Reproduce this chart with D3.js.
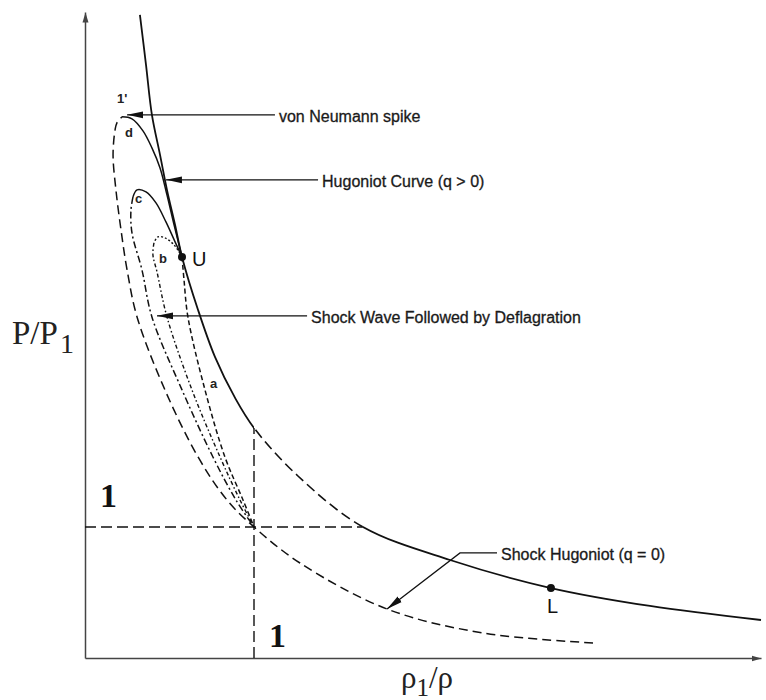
<!DOCTYPE html>
<html><head><meta charset="utf-8">
<script src="https://cdn.jsdelivr.net/npm/d3@7"></script>
<style>body{margin:0;background:#fff}svg{display:block}</style>
</head><body>
<svg id="chart" width="766" height="700"></svg>
<script>
// ---- data (x = rho1/rho, y = P/P1) ----
const xDomain = [0, 4];
const yDomain = [0, 4.93];

// Hugoniot curve (q > 0)
const hugoniotQPos = [[0.325,4.908],[0.361,4.527],[0.396,4.145],[0.444,3.840],[0.485,3.573],[0.533,3.305],[0.574,3.061],
  [0.669,2.656],[0.769,2.298],[0.888,1.985],[1.000,1.756],[1.260,1.389],[1.645,1.000],
  [2.160,0.748],[2.757,0.534],[3.343,0.397],[4.000,0.290]];
// Shock Hugoniot (q = 0), from low pressure up to the von Neumann spike 1'
const shockHugoniot = [[3.006,0.115],[2.355,0.191],[1.787,0.374],[1.272,0.725],[1.000,1.000],[0.840,1.206],[0.669,1.534],
  [0.473,2.046],[0.308,2.603],[0.249,2.962],[0.213,3.267],[0.183,3.573],[0.166,3.840],[0.178,4.031],[0.189,4.084],[0.219,4.130]];
// path d: from 1' to U (solid)
const pathD = [[0.219,4.130],[0.278,4.115],[0.343,4.023],[0.396,3.893],[0.444,3.740],[0.485,3.534],[0.527,3.305],[0.574,3.061]];
// path c: solid top, dash-dot branch
const pathCTop = [[0.574,3.061],[0.533,3.176],[0.479,3.328],[0.420,3.473],[0.361,3.557],[0.308,3.573],[0.284,3.519]];
const pathCBranch = [[0.284,3.519],[0.272,3.420],[0.278,3.244],[0.337,2.962],[0.396,2.603],[0.574,2.046],[0.757,1.534],[0.893,1.206],[1.000,1.000]];
// path b: dotted top, dash-dot-dot branch
const pathBTop = [[0.574,3.061],[0.527,3.153],[0.473,3.206],[0.432,3.214],[0.408,3.168]];
const pathBBranch = [[0.408,3.168],[0.402,3.076],[0.426,2.947],[0.485,2.603],[0.633,2.046],[0.799,1.534],[0.917,1.206],[1.000,1.000]];
// path a: from U down (dashed)
const pathA = [[0.574,3.061],[0.586,2.885],[0.609,2.603],[0.710,2.046],[0.828,1.534],[0.935,1.206],[1.000,1.000]];

const initialState = [1, 1];
const hugoniotAtX1 = 1.756;   // P/P1 on the q>0 Hugoniot at rho1/rho = 1
const hugoniotAtY1 = 1.645;   // rho1/rho on the q>0 Hugoniot at P/P1 = 1
const points = [{name:"U", at:[0.574,3.061]}, {name:"L", at:[2.757,0.534]}];
const curveLabels = [{t:"1'", at:[0.189,4.237]}, {t:"d", at:[0.237,3.977]}, {t:"c", at:[0.296,3.473]},
  {t:"b", at:[0.438,3.015]}, {t:"a", at:[0.740,2.061]}];
const annotations = [
  {text:"von Neumann spike", pts:[[1.124,4.145],[0.249,4.145]]},
  {text:"Hugoniot Curve (q > 0)", pts:[[1.379,3.649],[0.479,3.649]]},
  {text:"Shock Wave Followed by Deflagration", pts:[[1.314,2.611],[0.426,2.611]]},
  {text:"Shock Hugoniot (q = 0)", pts:[[2.438,0.802],[2.219,0.802],[1.787,0.374]]}
];
const tickOneLabel = "1";
const xTitle = ["\u03C1", "1", "/\u03C1"];
const yTitle = ["P/P", "1"];

// ---- drawing ----
const svg = d3.select("#chart");
const x = d3.scaleLinear().domain(xDomain).range([85, 761]);
const y = d3.scaleLinear().domain(yDomain).range([658, 12]);
const line = d3.line().x(d => x(d[0])).y(d => y(d[1])).curve(d3.curveCatmullRom.alpha(0.5));
const straight = d3.line().x(d => x(d[0])).y(d => y(d[1]));
const ink = "#111";

const defs = svg.append("defs");
defs.append("marker").attr("id","head").attr("viewBox","0 0 16 8").attr("refX",16).attr("refY",4)
  .attr("markerWidth",16).attr("markerHeight",8).attr("markerUnits","userSpaceOnUse").attr("orient","auto")
  .append("path").attr("d","M0,0.6 L16,4 L0,7.4 Z").attr("fill",ink);
defs.append("marker").attr("id","axhead").attr("viewBox","0 0 10 7").attr("refX",10).attr("refY",3.5)
  .attr("markerWidth",10).attr("markerHeight",7).attr("markerUnits","userSpaceOnUse").attr("orient","auto")
  .append("path").attr("d","M0,0.5 L10,3.5 L0,6.5 Z").attr("fill","#444");
// clip regions for q>0 Hugoniot (solid outside the dashed box, dashed inside)
defs.append("clipPath").attr("id","outside").call(c => {
  c.append("rect").attr("x",0).attr("y",0).attr("width",x(1)).attr("height",700);
  c.append("rect").attr("x",x(hugoniotAtY1)).attr("y",0).attr("width",766).attr("height",700);
});
defs.append("clipPath").attr("id","inside").append("rect")
  .attr("x",x(1)).attr("y",0).attr("width",x(hugoniotAtY1)-x(1)).attr("height",700);

// axes
const gx = svg.append("g").attr("transform",`translate(0,${y(0)})`)
  .call(d3.axisBottom(x).tickValues([]).tickSizeOuter(0));
const gy = svg.append("g").attr("transform",`translate(${x(0)},0)`)
  .call(d3.axisLeft(y).tickValues([]).tickSizeOuter(0));
[gx, gy].forEach(g => g.select(".domain").attr("stroke","#444").attr("stroke-width",1.5).attr("marker-end","url(#axhead)"));

// reference dashed lines through the initial state
svg.append("path").attr("d", straight([[0, initialState[1]], [hugoniotAtY1, initialState[1]]]))
  .attr("fill","none").attr("stroke",ink).attr("stroke-width",1.4).attr("stroke-dasharray","11,5");
svg.append("path").attr("d", straight([[initialState[0], 0], [initialState[0], hugoniotAtX1]]))
  .attr("fill","none").attr("stroke",ink).attr("stroke-width",1.4).attr("stroke-dasharray","11,5");

// Hugoniot q>0
svg.append("path").attr("d", line(hugoniotQPos)).attr("clip-path","url(#outside)")
  .attr("fill","none").attr("stroke",ink).attr("stroke-width",1.8);
svg.append("path").attr("d", line(hugoniotQPos)).attr("clip-path","url(#inside)")
  .attr("fill","none").attr("stroke",ink).attr("stroke-width",1.6).attr("stroke-dasharray","10,5");

// shock Hugoniot q=0
svg.append("path").attr("d", line(shockHugoniot)).attr("fill","none").attr("stroke",ink)
  .attr("stroke-width",1.5).attr("stroke-dasharray","9,5");
// d
svg.append("path").attr("d", line(pathD)).attr("fill","none").attr("stroke",ink).attr("stroke-width",1.5);
// c
svg.append("path").attr("d", line(pathCTop)).attr("fill","none").attr("stroke",ink).attr("stroke-width",1.5);
svg.append("path").attr("d", line(pathCBranch)).attr("fill","none").attr("stroke",ink)
  .attr("stroke-width",1.5).attr("stroke-dasharray","7,3,2,3");
// b
svg.append("path").attr("d", line(pathBTop)).attr("fill","none").attr("stroke",ink)
  .attr("stroke-width",1.4).attr("stroke-dasharray","2,2");
svg.append("path").attr("d", line(pathBBranch)).attr("fill","none").attr("stroke",ink)
  .attr("stroke-width",1.4).attr("stroke-dasharray","4,2.5,1.5,2.5");
// a
svg.append("path").attr("d", line(pathA)).attr("fill","none").attr("stroke",ink)
  .attr("stroke-width",1.5).attr("stroke-dasharray","5,3");

// points
svg.selectAll("circle.pt").data(points).join("circle").attr("class","pt")
  .attr("cx",d=>x(d.at[0])).attr("cy",d=>y(d.at[1])).attr("r",4).attr("fill",ink);
svg.append("text").attr("x", x(points[0].at[0]) + 10).attr("y", y(points[0].at[1]) + 9)
  .attr("font-family","Liberation Sans, Arial, sans-serif").attr("font-size",20).attr("fill",ink).text(points[0].name);
svg.append("text").attr("x", x(points[1].at[0]) - 4).attr("y", y(points[1].at[1]) + 25)
  .attr("font-family","Liberation Sans, Arial, sans-serif").attr("font-size",20).attr("fill",ink).text(points[1].name);

// small curve labels
svg.selectAll("text.cl").data(curveLabels).join("text").attr("class","cl")
  .attr("x",d=>x(d.at[0])).attr("y",d=>y(d.at[1]))
  .attr("font-family","Liberation Sans, Arial, sans-serif").attr("font-size",13).attr("font-weight","bold")
  .attr("fill","#222").text(d=>d.t);

// annotations
annotations.forEach(a => {
  svg.append("path").attr("d", straight(a.pts)).attr("fill","none").attr("stroke",ink)
    .attr("stroke-width",1.3).attr("marker-end","url(#head)");
  svg.append("text").attr("x", x(a.pts[0][0]) + 4).attr("y", y(a.pts[0][1]) + 3)
    .attr("font-family","Liberation Sans, Arial, sans-serif").attr("font-size",16).attr("fill","#1a1a1a")
    .attr("stroke","#1a1a1a").attr("stroke-width",0.3)
    .attr("dominant-baseline","middle").text(a.text);
});

// "1" labels
svg.append("text").attr("x", x(0) + 15).attr("y", y(initialState[1]) - 20)
  .attr("font-family","Liberation Serif, Times New Roman, serif").attr("font-weight","bold").attr("font-size",34)
  .attr("fill",ink).text(tickOneLabel);
svg.append("text").attr("x", x(initialState[0]) + 15).attr("y", y(0) - 11)
  .attr("font-family","Liberation Serif, Times New Roman, serif").attr("font-weight","bold").attr("font-size",34)
  .attr("fill",ink).text(tickOneLabel);

// axis titles
const yt = svg.append("text").attr("x",12).attr("y",344)
  .attr("font-family","Liberation Serif, Times New Roman, serif").attr("font-size",33).attr("fill","#222");
yt.append("tspan").text(yTitle[0]);
yt.append("tspan").attr("dx",2).attr("dy",9).attr("font-size",28).text(yTitle[1]);
const xt = svg.append("text").attr("x",401).attr("y",688)
  .attr("font-family","Liberation Serif, Times New Roman, serif").attr("font-size",31).attr("fill","#222");
xt.append("tspan").text(xTitle[0]);
xt.append("tspan").attr("dy",8).attr("font-size",25).text(xTitle[1]);
xt.append("tspan").attr("dy",-8).text(xTitle[2]);
</script>
</body></html>
